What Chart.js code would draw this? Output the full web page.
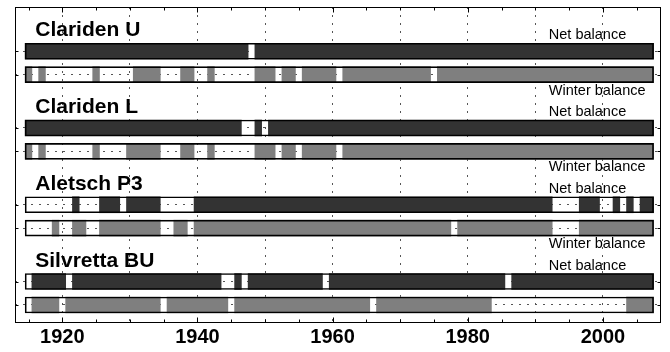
<!DOCTYPE html>
<html>
<head>
<meta charset="utf-8">
<script src="https://cdn.jsdelivr.net/npm/chart.js@4"></script>
<style>
  html, body { margin: 0; padding: 0; background: #fff; }
</style>
</head>
<body>
<canvas id="chart" width="670" height="352"></canvas>
<script>
const sites = ['Clariden U', 'Clariden L', 'Aletsch P3', 'Silvretta BU'];
const firstYear = 1915;
const lastYear = 2007;

// years with no measurement, as [from, to] runs
const netGaps = [
  [[1948, 1948]],
  [[1947, 1948], [1950, 1950]],
  [[1915, 1921], [1923, 1925], [1929, 1929], [1935, 1939], [1993, 1996], [2000, 2001], [2003, 2003], [2005, 2005]],
  [[1915, 1915], [1921, 1921], [1944, 1945], [1947, 1947], [1959, 1959], [1986, 1986]],
];
const winterGaps = [
  [[1916, 1916], [1918, 1924], [1926, 1930], [1935, 1937], [1940, 1941], [1943, 1948], [1952, 1952], [1955, 1955], [1961, 1961], [1975, 1975]],
  [[1916, 1916], [1918, 1924], [1926, 1929], [1935, 1937], [1940, 1941], [1943, 1948], [1952, 1952], [1955, 1955], [1961, 1961]],
  [[1915, 1918], [1920, 1921], [1924, 1925], [1935, 1936], [1939, 1939], [1978, 1978], [1993, 1996]],
  [[1915, 1915], [1920, 1920], [1935, 1935], [1945, 1945], [1966, 1966], [1984, 2003]],
];
const yearTicks = [1915, 1920, 1925, 1930, 1935, 1940, 1945, 1950, 1955, 1960,
  1965, 1970, 1975, 1980, 1985, 1990, 1995, 2000, 2005];

const FONT = '"Liberation Sans", Arial, Helvetica, sans-serif';

// vertical slot of a row: groups of two bars, net on top
function rowY(g, kind) {
  return g * 10 + (kind === 'winter' ? 3.05 : 0);
}

function segments(gaps) {
  const segs = [];
  let start = firstYear;
  gaps.forEach(([a, b]) => {
    if (a > start) segs.push([start - 0.5, a - 0.5]);
    start = b + 1;
  });
  if (start <= lastYear) segs.push([start - 0.5, lastYear + 0.5]);
  return segs;
}

const rows = [];
sites.forEach((s, g) => { rows.push(rowY(g, 'net')); rows.push(rowY(g, 'winter')); });

const outline = rows.map(r => ({ x: [firstYear - 0.5, lastYear + 0.5], y: r }));
const netBars = sites.flatMap((s, g) => segments(netGaps[g]).map(seg => ({ x: seg, y: rowY(g, 'net') })));
const winterBars = sites.flatMap((s, g) => segments(winterGaps[g]).map(seg => ({ x: seg, y: rowY(g, 'winter') })));

const framePlugin = {
  id: 'frame',
  afterDraw(chart) {
    const { ctx, chartArea: a, scales: { x, y } } = chart;
    ctx.save();
    ctx.strokeStyle = '#000';
    ctx.lineWidth = 1;
    const l = Math.round(a.left) + 0.5, t = Math.round(a.top) + 0.5;
    const r = Math.round(a.right) - 0.5, b = Math.round(a.bottom) - 0.5;
    ctx.strokeRect(l, t, r - l, b - t);

    ctx.beginPath();
    x.ticks.forEach(tk => {
      const px = Math.round(x.getPixelForValue(tk.value)) + 0.5;
      const len = tk.value % 20 === 0 ? 5 : 3;
      ctx.moveTo(px, t); ctx.lineTo(px, t + len);
      ctx.moveTo(px, b); ctx.lineTo(px, b - len);
    });
    y.ticks.forEach(tk => {
      const py = Math.round(y.getPixelForValue(tk.value)) + 0.5;
      ctx.moveTo(l, py); ctx.lineTo(l + 3, py);
      ctx.moveTo(r, py); ctx.lineTo(r - 3, py);
    });
    ctx.stroke();

    ctx.fillStyle = '#000';
    ctx.textAlign = 'left';
    ctx.textBaseline = 'alphabetic';
    sites.forEach((s, g) => {
      const yNet = y.getPixelForValue(rowY(g, 'net'));
      const yWin = y.getPixelForValue(rowY(g, 'winter'));
      ctx.font = 'bold 21px ' + FONT;
      ctx.fillText(s, x.getPixelForValue(1916), yNet - 15);
      ctx.font = '14.5px ' + FONT;
      ctx.fillText('Net balance', x.getPixelForValue(1992), yNet - 12);
      if (g < sites.length - 1) ctx.fillText('Winter balance', x.getPixelForValue(1992), yWin + 20);
    });
    ctx.restore();
  }
};

new Chart(document.getElementById('chart'), {
  type: 'bar',
  data: {
    datasets: [
      { data: outline, backgroundColor: 'rgba(0,0,0,0)', borderColor: '#000', borderWidth: 1, borderSkipped: false, barThickness: 16, grouped: false },
      { data: netBars, backgroundColor: '#333333', borderWidth: 0, barThickness: 16, grouped: false },
      { data: winterBars, backgroundColor: '#7f7f7f', borderWidth: 0, barThickness: 16, grouped: false },
    ]
  },
  options: {
    indexAxis: 'y',
    responsive: false,
    animation: false,
    layout: { padding: { left: 15, right: 9, top: 7, bottom: 1 } },
    plugins: { legend: { display: false }, tooltip: { enabled: false } },
    scales: {
      x: {
        type: 'linear',
        min: 1913,
        max: 2008.6,
        afterBuildTicks: s => { s.ticks = yearTicks.map(v => ({ value: v })); },
        grid: {
          color: c => (c.tick && c.tick.value % 10 === 0) ? '#555' : 'rgba(0,0,0,0)',
          drawTicks: false,
        },
        border: { display: false, dash: [2, 6] },
        ticks: {
          callback: v => v % 20 === 0 ? v : '',
          autoSkip: false,
          maxRotation: 0,
          padding: 2,
          color: '#000',
          font: { family: FONT, size: 20, weight: 'bold' },
        }
      },
      y: {
        type: 'linear',
        reverse: true,
        offset: false,
        min: -5.76,
        max: 35.4,
        afterBuildTicks: s => { s.ticks = rows.map(v => ({ value: v })); },
        grid: { offset: false, color: '#555', drawTicks: false },
        border: { display: false, dash: [2, 6] },
        ticks: { display: false },
      }
    }
  },
  plugins: [framePlugin]
});
</script>
</body>
</html>
